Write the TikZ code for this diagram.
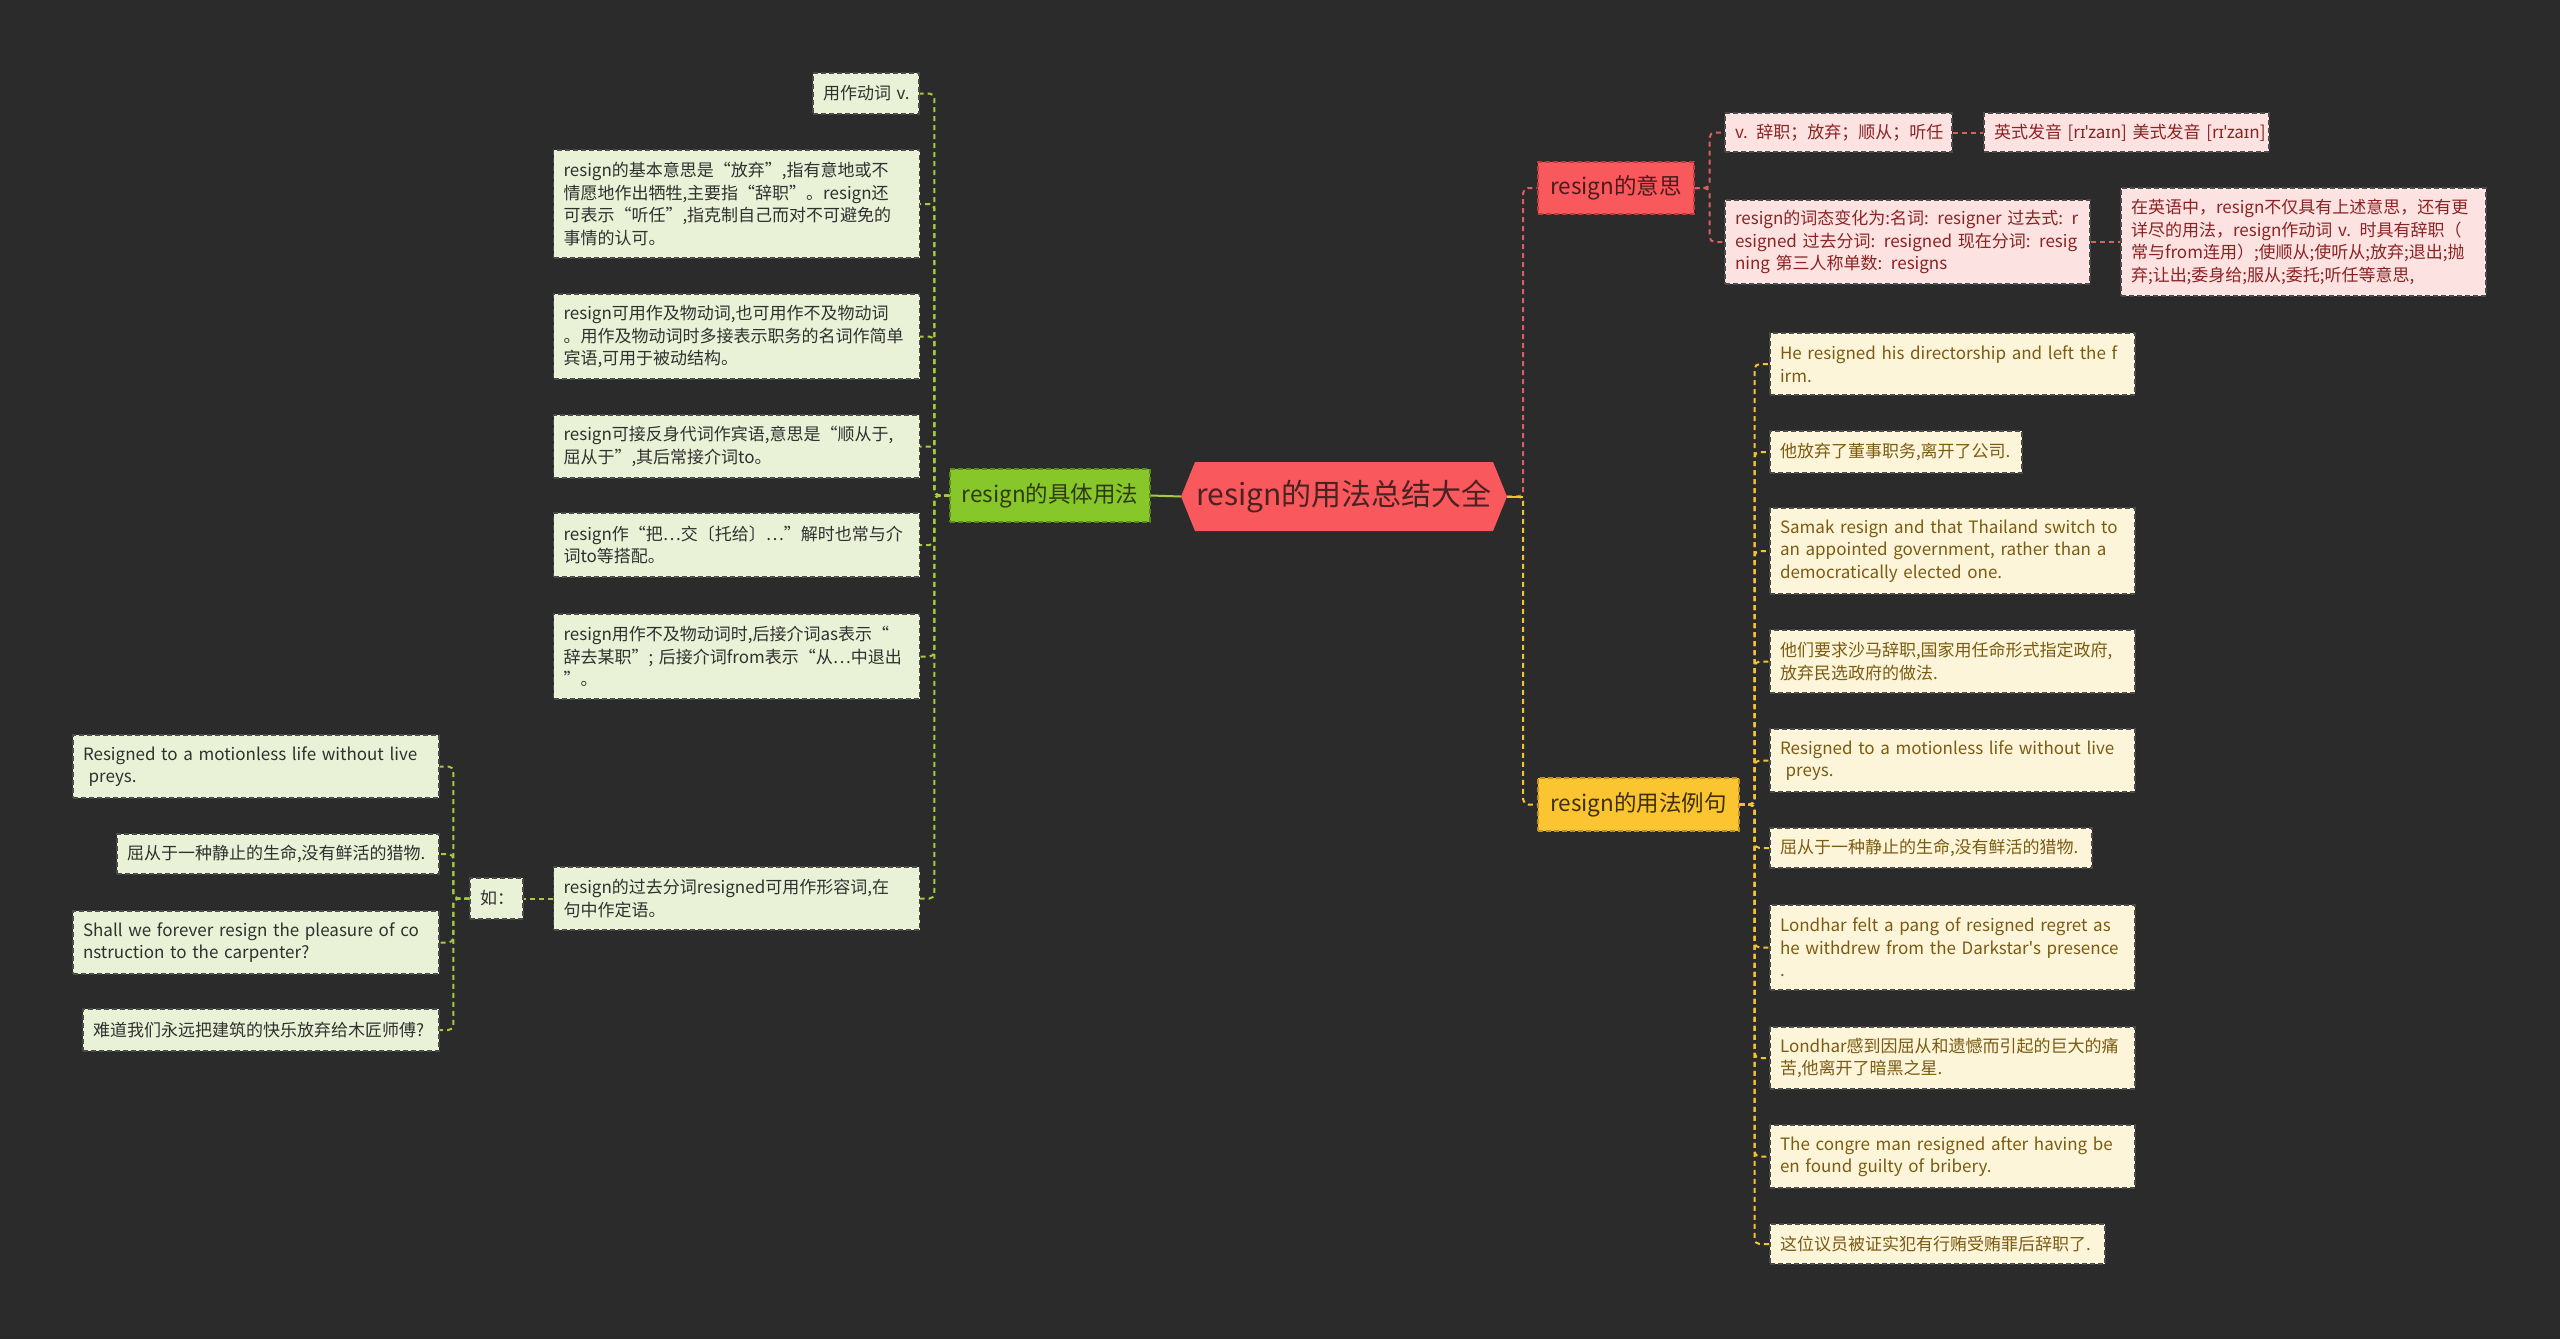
\documentclass[tikz,border=0pt]{standalone}
\usepackage{fontspec}
\newfontfamily\cjk{Noto Sans CJK SC}
\newfontfamily\ipa{Noto Sans}
\definecolor{bgc}{HTML}{2B2B2B}
\definecolor{rootfill}{HTML}{F9585D}
\definecolor{roottext}{HTML}{4A2222}
\definecolor{gbfill}{HTML}{87C72A}
\definecolor{gbdraw}{HTML}{5A8A1A}
\definecolor{gbtext}{HTML}{2E3B12}
\definecolor{glfill}{HTML}{E9F2D6}
\definecolor{gltext}{HTML}{303030}
\definecolor{gline}{HTML}{A5CC3F}
\definecolor{rbfill}{HTML}{F9585D}
\definecolor{rbdraw}{HTML}{C03A3E}
\definecolor{rbtext}{HTML}{4A1C1C}
\definecolor{plfill}{HTML}{FDE2E2}
\definecolor{pltext}{HTML}{8B2323}
\definecolor{rline}{HTML}{DB5F5F}
\definecolor{ybfill}{HTML}{FBC531}
\definecolor{ybdraw}{HTML}{C09020}
\definecolor{ybtext}{HTML}{3D2F0A}
\definecolor{ylfill}{HTML}{FDF5D9}
\definecolor{yltext}{HTML}{7B5B12}
\definecolor{yline}{HTML}{F4C430}
\definecolor{leafdraw}{HTML}{4A4A4A}
\newcommand\mbl[1]{\mbox{#1}}
\begin{document}
\begin{tikzpicture}[x=1pt,y=-1pt,
  box/.style={rectangle, inner xsep=10pt, inner ysep=0pt, align=left,
    font=\cjk\fontsize{17pt}{22.5pt}\selectfont, line width=1.2pt,
    dash pattern=on 5pt off 3pt},
  gleaf/.style={box, fill=glfill, draw=leafdraw, text=gltext},
  pleaf/.style={box, fill=plfill, draw=leafdraw, text=pltext},
  yleaf/.style={box, fill=ylfill, draw=leafdraw, text=yltext},
  branch/.style={rectangle, inner sep=0pt, align=center,
    font=\cjk\fontsize{22.5pt}{27pt}\selectfont, line width=1.2pt,
    dash pattern=on 5pt off 3pt},
  conn/.style={line width=2pt, dash pattern=on 5pt off 4pt, rounded corners=5pt},
  gconn/.style={conn, draw=gline},
  rconn/.style={conn, draw=rline},
  yconn/.style={conn, draw=yline},
]
\useasboundingbox (0,0) rectangle (2560,1339);
\fill[bgc] (0,0) rectangle (2560,1339);

% root
\fill[rootfill] (1181,496.5) -- (1195,462) -- (1493,462) -- (1507,496.5) -- (1493,531) -- (1195,531) -- cycle;
\node[inner sep=0pt, minimum width=326pt, minimum height=69pt, text=roottext,
  font=\cjk\fontsize{30pt}{34pt}\selectfont] (root) at (1344,496.5) {resign的用法总结大全};

% branches
\node[branch, fill=gbfill, draw=gbdraw, text=gbtext, minimum width=200pt, minimum height=53pt] (gb) at (1050,495.5) {resign的具体用法};
\node[branch, fill=rbfill, draw=rbdraw, text=rbtext, minimum width=156pt, minimum height=52pt] (rb) at (1616,188) {resign的意思};
\node[branch, fill=ybfill, draw=ybdraw, text=ybtext, minimum width=201pt, minimum height=53pt] (yb) at (1638.5,804.5) {resign的用法例句};

% green leaves
\node[gleaf, text width=86pt, minimum height=41pt] (g1) at (866,93.5) {\mbl{用作动词 v.}};
\node[gleaf, text width=346pt, minimum height=108pt] (g2) at (736.5,204) {\mbl{resign的基本意思是“放弃”,指有意地或不}\\\mbl{情愿地作出牺牲,主要指“辞职”。resign还}\\\mbl{可表示“听任”,指克制自己而对不可避免的}\\\mbl{事情的认可。}};
\node[gleaf, text width=346pt, minimum height=85pt] (g3) at (736.5,336.5) {\mbl{resign可用作及物动词,也可用作不及物动词}\\\mbl{。用作及物动词时多接表示职务的名词作简单}\\\mbl{宾语,可用于被动结构。}};
\node[gleaf, text width=346pt, minimum height=63pt] (g4) at (736.5,446.5) {\mbl{resign可接反身代词作宾语,意思是“顺从于,}\\\mbl{屈从于”,其后常接介词to。}};
\node[gleaf, text width=346pt, minimum height=64pt] (g5) at (736.5,545) {\mbl{resign作“把…交〔托给〕…”解时也常与介}\\\mbl{词to等搭配。}};
\node[gleaf, text width=346pt, minimum height=85pt] (g6) at (736.5,656.5) {\mbl{resign用作不及物动词时,后接介词as表示“}\\\mbl{辞去某职”; 后接介词from表示“从…中退出}\\\mbl{”。}};
\node[gleaf, text width=346pt, minimum height=63pt] (g7) at (736.5,898.5) {\mbl{resign的过去分词resigned可用作形容词,在}\\\mbl{句中作定语。}};
\node[gleaf, text width=33pt, minimum height=41pt] (ru) at (496.5,898.5) {\mbl{如：}};
\node[gleaf, text width=346pt, minimum height=63pt] (ga) at (256,766.5) {\mbl{Resigned to a motionless life without live}\\\mbl{\ preys.}};
\node[gleaf, text width=302pt, minimum height=40pt] (gbb) at (278,854) {\mbl{屈从于一种静止的生命,没有鲜活的猎物.}};
\node[gleaf, text width=346pt, minimum height=63pt] (gc) at (256,942.5) {\mbl{Shall we forever resign the pleasure of co}\\\mbl{nstruction to the carpenter?}};
\node[gleaf, text width=336pt, minimum height=42pt] (gd) at (261,1030) {\mbl{难道我们永远把建筑的快乐放弃给木匠师傅?}};

% pink leaves
\node[pleaf, text width=207pt, minimum height=39pt] (p1) at (1838.5,132.5) {\mbl{v. 辞职；放弃；顺从；听任}};
\node[pleaf, text width=265pt, minimum height=39pt] (p2) at (2126.5,132.5) {\mbl{英式发音 [r{\ipa ɪˈ}za{\ipa ɪ}n] 美式发音 [r{\ipa ɪˈ}za{\ipa ɪ}n]}};
\node[pleaf, text width=345pt, minimum height=84pt] (p3) at (1907.5,242) {\mbl{resign的词态变化为:名词: resigner 过去式: r}\\\mbl{esigned 过去分词: resigned 现在分词: resig}\\\mbl{ning 第三人称单数: resigns}};
\node[pleaf, text width=345pt, minimum height=108pt] (p4) at (2303.5,242) {\mbl{在英语中，resign不仅具有上述意思，还有更}\\\mbl{详尽的用法，resign作动词 v. 时具有辞职（}\\\mbl{常与from连用）;使顺从;使听从;放弃;退出;抛}\\\mbl{弃;让出;委身给;服从;委托;听任等意思,}};

% yellow leaves
\node[yleaf, text width=345pt, minimum height=62pt] (y1) at (1952.5,364) {\mbl{He resigned his directorship and left the f}\\\mbl{irm.}};
\node[yleaf, text width=232pt, minimum height=42pt] (y2) at (1896,452) {\mbl{他放弃了董事职务,离开了公司.}};
\node[yleaf, text width=345pt, minimum height=86pt] (y3) at (1952.5,551) {\mbl{Samak resign and that Thailand switch to}\\\mbl{an appointed government, rather than a}\\\mbl{democratically elected one.}};
\node[yleaf, text width=345pt, minimum height=63pt] (y4) at (1952.5,661.5) {\mbl{他们要求沙马辞职,国家用任命形式指定政府,}\\\mbl{放弃民选政府的做法.}};
\node[yleaf, text width=345pt, minimum height=63pt] (y5) at (1952.5,760.5) {\mbl{Resigned to a motionless life without live}\\\mbl{\ preys.}};
\node[yleaf, text width=302pt, minimum height=40pt] (y6) at (1931,848) {\mbl{屈从于一种静止的生命,没有鲜活的猎物.}};
\node[yleaf, text width=345pt, minimum height=85pt] (y7) at (1952.5,947.5) {\mbl{Londhar felt a pang of resigned regret as}\\\mbl{he withdrew from the Darkstar's presence}\\\mbl{.}};
\node[yleaf, text width=345pt, minimum height=62pt] (y8) at (1952.5,1058) {\mbl{Londhar感到因屈从和遗憾而引起的巨大的痛}\\\mbl{苦,他离开了暗黑之星.}};
\node[yleaf, text width=345pt, minimum height=63pt] (y9) at (1952.5,1156.5) {\mbl{The congre man resigned after having be}\\\mbl{en found guilty of bribery.}};
\node[yleaf, text width=315pt, minimum height=40pt] (y10) at (1937.5,1244) {\mbl{这位议员被证实犯有行贿受贿罪后辞职了.}};

% connectors: root
\draw[line width=2pt, gline] (root.west) -- (gb.east);
\draw[rconn] (root.east) -- ++(16,0) |- (rb.west);
\draw[yconn] (root.east) -- ++(16,0) |- (yb.west);
\draw[line width=2pt, yline] (root.east) -- ++(16,0);

% green
\foreach \c in {g1,g2,g3,g4,g5,g6,g7}
  \draw[gconn] (gb.west) -- ++(-15,0) |- (\c.east);
\draw[gconn] (g7.west) -- (ru.east);
\foreach \c in {ga,gbb,gc,gd}
  \draw[gconn] (ru.west) -- ++(-16,0) |- (\c.east);

% red
\foreach \c in {p1,p3}
  \draw[rconn] (rb.east) -- ++(15,0) |- (\c.west);
\draw[rconn] (p1.east) -- (p2.west);
\draw[rconn] (p3.east) -- (p4.west);

% yellow
\foreach \c in {y1,y2,y3,y4,y5,y6,y7,y8,y9,y10}
  \draw[yconn] (yb.east) -- ++(15,0) |- (\c.west);
\end{tikzpicture}
\end{document}
